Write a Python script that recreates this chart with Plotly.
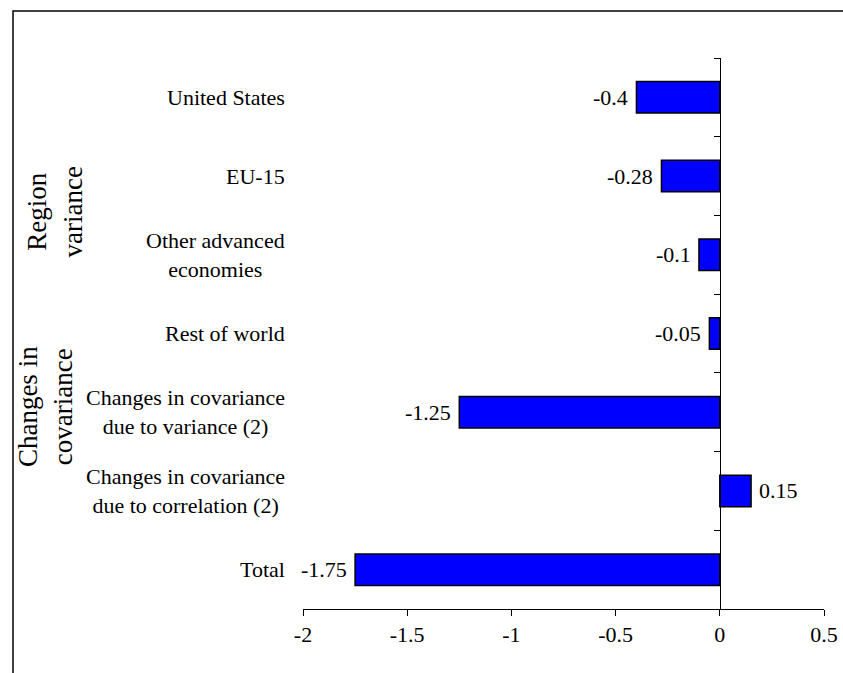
import plotly.graph_objects as go

# Contribution of each component to the change in variance
categories = [
    "United States",
    "EU-15",
    "Other advanced<br>economies",
    "Rest of world",
    "Changes in covariance<br>due to variance (2)",
    "Changes in covariance<br>due to correlation (2)",
    "Total",
]
values = [-0.4, -0.28, -0.1, -0.05, -1.25, 0.15, -1.75]

x_tickvals = [-2, -1.5, -1, -0.5, 0, 0.5]
x_ticktext = ["-2", "-1.5", "-1", "-0.5", "0", "0.5"]

group_labels = ["Region<br>variance", "Changes in<br>covariance"]

FONT = "Liberation Serif, Times New Roman, serif"
X_RANGE = [-2, 0.5]
n = len(categories)

fig = go.Figure()
fig.add_trace(go.Bar(
    x=values,
    y=categories,
    orientation="h",
    width=0.4,
    marker=dict(color="#0000FF", line=dict(color="black", width=1.5)),
    hoverinfo="skip",
))
# empty trace that brings the zero-position axis (with boundary ticks) to life
fig.add_trace(go.Scatter(x=[], y=[], yaxis="y2", mode="markers",
                         showlegend=False, hoverinfo="skip"))

annotations = []
# category labels, centred lines, right-aligned block left of the plot
for cat in categories:
    annotations.append(dict(
        x=-0.031, xref="paper", y=cat, yref="y",
        text=cat, showarrow=False, xanchor="right", yanchor="middle",
        align="center", font=dict(family=FONT, size=22, color="black"),
    ))
# value labels at the bar ends
for cat, v in zip(categories, values):
    annotations.append(dict(
        x=v, xref="x", y=cat, yref="y",
        text=f"{v:g}", showarrow=False,
        xanchor="right" if v < 0 else "left",
        xshift=-6 if v < 0 else 6, yanchor="middle",
        font=dict(family=FONT, size=22, color="black"),
    ))
# group headings
for text, gx, gy in [(group_labels[0], -0.477, 0.7205), (group_labels[1], -0.495, 0.3666)]:
    annotations.append(dict(
        x=gx, xref="paper", y=gy, yref="paper",
        text=text, showarrow=False, textangle=-90,
        xanchor="center", yanchor="middle", align="center",
        font=dict(family=FONT, size=27, color="black"),
    ))

zero_pos = (0 - X_RANGE[0]) / (X_RANGE[1] - X_RANGE[0])

fig.update_layout(
    template="none",
    width=843, height=673, autosize=False,
    margin=dict(l=303, r=19, t=58, b=64, autoexpand=False),
    paper_bgcolor="white", plot_bgcolor="white",
    showlegend=False,
    font=dict(family=FONT, size=22, color="black"),
    xaxis=dict(
        range=X_RANGE, tickvals=x_tickvals, ticktext=x_ticktext,
        showline=True, linecolor="black", linewidth=1,
        ticks="outside", ticklen=6, tickcolor="black", tickwidth=1,
        showgrid=False, zeroline=False, automargin=False,
        tickfont=dict(family=FONT, size=22, color="black"),
    ),
    yaxis=dict(
        type="category", categoryarray=categories, categoryorder="array",
        range=[n - 0.5, -0.5],
        showticklabels=False, showline=False, ticks="", showgrid=False,
        zeroline=False, automargin=False,
    ),
    yaxis2=dict(
        overlaying="y", anchor="free", position=zero_pos, side="left",
        range=[n - 0.5, -0.5], type="linear",
        tickvals=[i - 0.5 for i in range(n + 1)],
        showticklabels=False, showline=True, linecolor="black", linewidth=1,
        ticks="outside", ticklen=6, tickcolor="black", tickwidth=1,
        showgrid=False, zeroline=False, automargin=False,
    ),
    annotations=annotations,
    shapes=[dict(
        type="rect", xref="paper", yref="paper",
        x0=-0.5566, x1=2.0, y0=-1.0, y1=1.0853,
        line=dict(color="black", width=1.5), fillcolor="rgba(0,0,0,0)",
        layer="above",
    )],
)

fig.write_html("out.html")
